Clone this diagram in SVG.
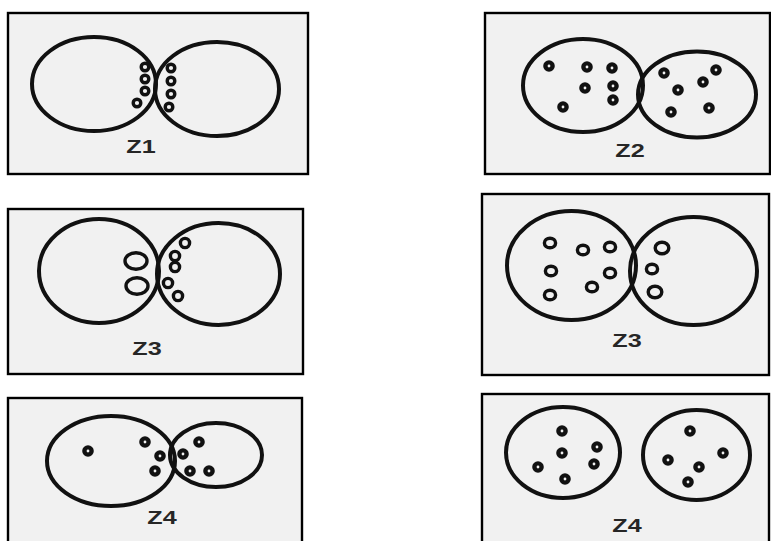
<svg xmlns="http://www.w3.org/2000/svg" width="771" height="541" viewBox="0 0 771 541">
  <style>
    .frame { fill: #f1f1f1; stroke: #000; stroke-width: 2.4; }
    .cell { fill: none; stroke: #111; stroke-width: 4; }
    .ring { fill: none; stroke: #111; stroke-width: 3.4; }
    .dot { fill: none; stroke: #111; stroke-width: 4.4; }
    .label { font-family: "Liberation Sans", Arial, sans-serif; font-size: 18px; font-weight: bold; fill: #262626; text-anchor: middle; }
  </style>
  <rect width="771" height="541" fill="#fff"/>

  <!-- Z1: two cells joined, rings lined up along the contact -->
  <g id="panel-z1-left">
    <rect class="frame" x="8" y="13" width="300" height="161" stroke-width="2.8"/>
    <ellipse class="cell" cx="94" cy="84" rx="62" ry="47"/>
    <ellipse class="cell" cx="217" cy="89" rx="62" ry="47"/>
    <circle class="ring" cx="145" cy="67" r="3.8"/>
    <circle class="ring" cx="145" cy="79" r="3.8"/>
    <circle class="ring" cx="145" cy="91" r="3.8"/>
    <circle class="ring" cx="137" cy="103" r="3.8"/>
    <circle class="ring" cx="171" cy="68" r="3.8"/>
    <circle class="ring" cx="171" cy="81" r="3.8"/>
    <circle class="ring" cx="171" cy="94" r="3.8"/>
    <circle class="ring" cx="169" cy="107" r="3.8"/>
    <text class="label" transform="translate(141,153) scale(1.4,1)">Z1</text>
  </g>

  <!-- Z2: two touching cells, dots spread inside each -->
  <g id="panel-z2-right">
    <rect class="frame" x="485" y="13" width="285" height="161"/>
    <ellipse class="cell" cx="583" cy="85.5" rx="60" ry="46.5"/>
    <ellipse class="cell" cx="697" cy="94.5" rx="59" ry="43"/>
    <circle class="dot" cx="549" cy="66" r="3.6"/>
    <circle class="dot" cx="587" cy="67" r="3.6"/>
    <circle class="dot" cx="612" cy="68" r="3.6"/>
    <circle class="dot" cx="585" cy="88" r="3.6"/>
    <circle class="dot" cx="613" cy="86" r="3.6"/>
    <circle class="dot" cx="613" cy="100" r="3.6"/>
    <circle class="dot" cx="563" cy="107" r="3.6"/>
    <circle class="dot" cx="664" cy="73" r="3.6"/>
    <circle class="dot" cx="716" cy="70" r="3.6"/>
    <circle class="dot" cx="703" cy="82" r="3.6"/>
    <circle class="dot" cx="678" cy="90" r="3.6"/>
    <circle class="dot" cx="671" cy="112" r="3.6"/>
    <circle class="dot" cx="709" cy="108" r="3.6"/>
    <text class="label" transform="translate(630,157) scale(1.4,1)">Z2</text>
  </g>

  <!-- Z3: two large rings on the left, small rings along the right cell -->
  <g id="panel-z3-left">
    <rect class="frame" x="8" y="209" width="295" height="165" stroke-width="1.5"/>
    <ellipse class="cell" cx="99" cy="271" rx="60" ry="52"/>
    <ellipse class="cell" cx="218.5" cy="274" rx="61.5" ry="51"/>
    <ellipse class="ring" cx="136" cy="261" rx="11" ry="8.2" stroke-width="4"/>
    <ellipse class="ring" cx="137" cy="286" rx="11" ry="8.2" stroke-width="4"/>
    <circle class="ring" cx="185" cy="243" r="4.6" stroke-width="3.6"/>
    <circle class="ring" cx="175" cy="256" r="4.6" stroke-width="3.6"/>
    <circle class="ring" cx="175" cy="267" r="4.6" stroke-width="3.6"/>
    <circle class="ring" cx="168" cy="283" r="4.6" stroke-width="3.6"/>
    <circle class="ring" cx="178" cy="296" r="4.6" stroke-width="3.6"/>
    <text class="label" transform="translate(147,355) scale(1.4,1)">Z3</text>
  </g>

  <!-- Z3: rings inside the left cell, three along the contact on the right -->
  <g id="panel-z3-right">
    <rect class="frame" x="482" y="194" width="287" height="181"/>
    <ellipse class="cell" cx="571.5" cy="265.5" rx="64.5" ry="54.5"/>
    <ellipse class="cell" cx="693.5" cy="271" rx="63.5" ry="54"/>
    <ellipse class="ring" cx="550" cy="243" rx="5.6" ry="4.8" stroke-width="4"/>
    <ellipse class="ring" cx="583" cy="250" rx="5.6" ry="4.8" stroke-width="4"/>
    <ellipse class="ring" cx="610" cy="247" rx="5.6" ry="4.8" stroke-width="4"/>
    <ellipse class="ring" cx="551" cy="271" rx="5.6" ry="4.8" stroke-width="4"/>
    <ellipse class="ring" cx="610" cy="273" rx="5.6" ry="4.8" stroke-width="4"/>
    <ellipse class="ring" cx="592" cy="287" rx="5.6" ry="4.8" stroke-width="4"/>
    <ellipse class="ring" cx="550" cy="295" rx="5.6" ry="4.8" stroke-width="4"/>
    <ellipse class="ring" cx="662" cy="248" rx="6.8" ry="5.8" stroke-width="4"/>
    <ellipse class="ring" cx="652" cy="269" rx="5.6" ry="4.8" stroke-width="4"/>
    <ellipse class="ring" cx="655" cy="292" rx="6.8" ry="5.8" stroke-width="4"/>
    <text class="label" transform="translate(627,347) scale(1.4,1)">Z3</text>
  </g>

  <!-- Z4: large cell overlapping a smaller one, dots near the overlap -->
  <g id="panel-z4-left">
    <rect class="frame" x="8" y="398" width="294" height="150"/>
    <ellipse class="cell" cx="111" cy="461" rx="64" ry="45"/>
    <ellipse class="cell" cx="216" cy="455" rx="46" ry="32"/>
    <circle class="dot" cx="88" cy="451" r="3.6"/>
    <circle class="dot" cx="145" cy="442" r="3.6"/>
    <circle class="dot" cx="160" cy="456" r="3.6"/>
    <circle class="dot" cx="155" cy="471" r="3.6"/>
    <circle class="dot" cx="183" cy="454" r="3.6"/>
    <circle class="dot" cx="199" cy="442" r="3.6"/>
    <circle class="dot" cx="190" cy="471" r="3.6"/>
    <circle class="dot" cx="209" cy="471" r="3.6"/>
    <text class="label" transform="translate(162,524) scale(1.4,1)">Z4</text>
  </g>

  <!-- Z4: two separate cells, dots scattered in each -->
  <g id="panel-z4-right">
    <rect class="frame" x="482" y="394" width="287" height="154"/>
    <ellipse class="cell" cx="563" cy="452.5" rx="57" ry="45.5"/>
    <ellipse class="cell" cx="696.5" cy="455" rx="53.5" ry="45"/>
    <circle class="dot" cx="562" cy="431" r="3.6"/>
    <circle class="dot" cx="562" cy="453" r="3.6"/>
    <circle class="dot" cx="597" cy="447" r="3.6"/>
    <circle class="dot" cx="594" cy="464" r="3.6"/>
    <circle class="dot" cx="538" cy="467" r="3.6"/>
    <circle class="dot" cx="565" cy="479" r="3.6"/>
    <circle class="dot" cx="690" cy="431" r="3.6"/>
    <circle class="dot" cx="723" cy="453" r="3.6"/>
    <circle class="dot" cx="668" cy="460" r="3.6"/>
    <circle class="dot" cx="699" cy="467" r="3.6"/>
    <circle class="dot" cx="688" cy="482" r="3.6"/>
    <text class="label" transform="translate(627,532) scale(1.4,1)">Z4</text>
  </g>
</svg>
